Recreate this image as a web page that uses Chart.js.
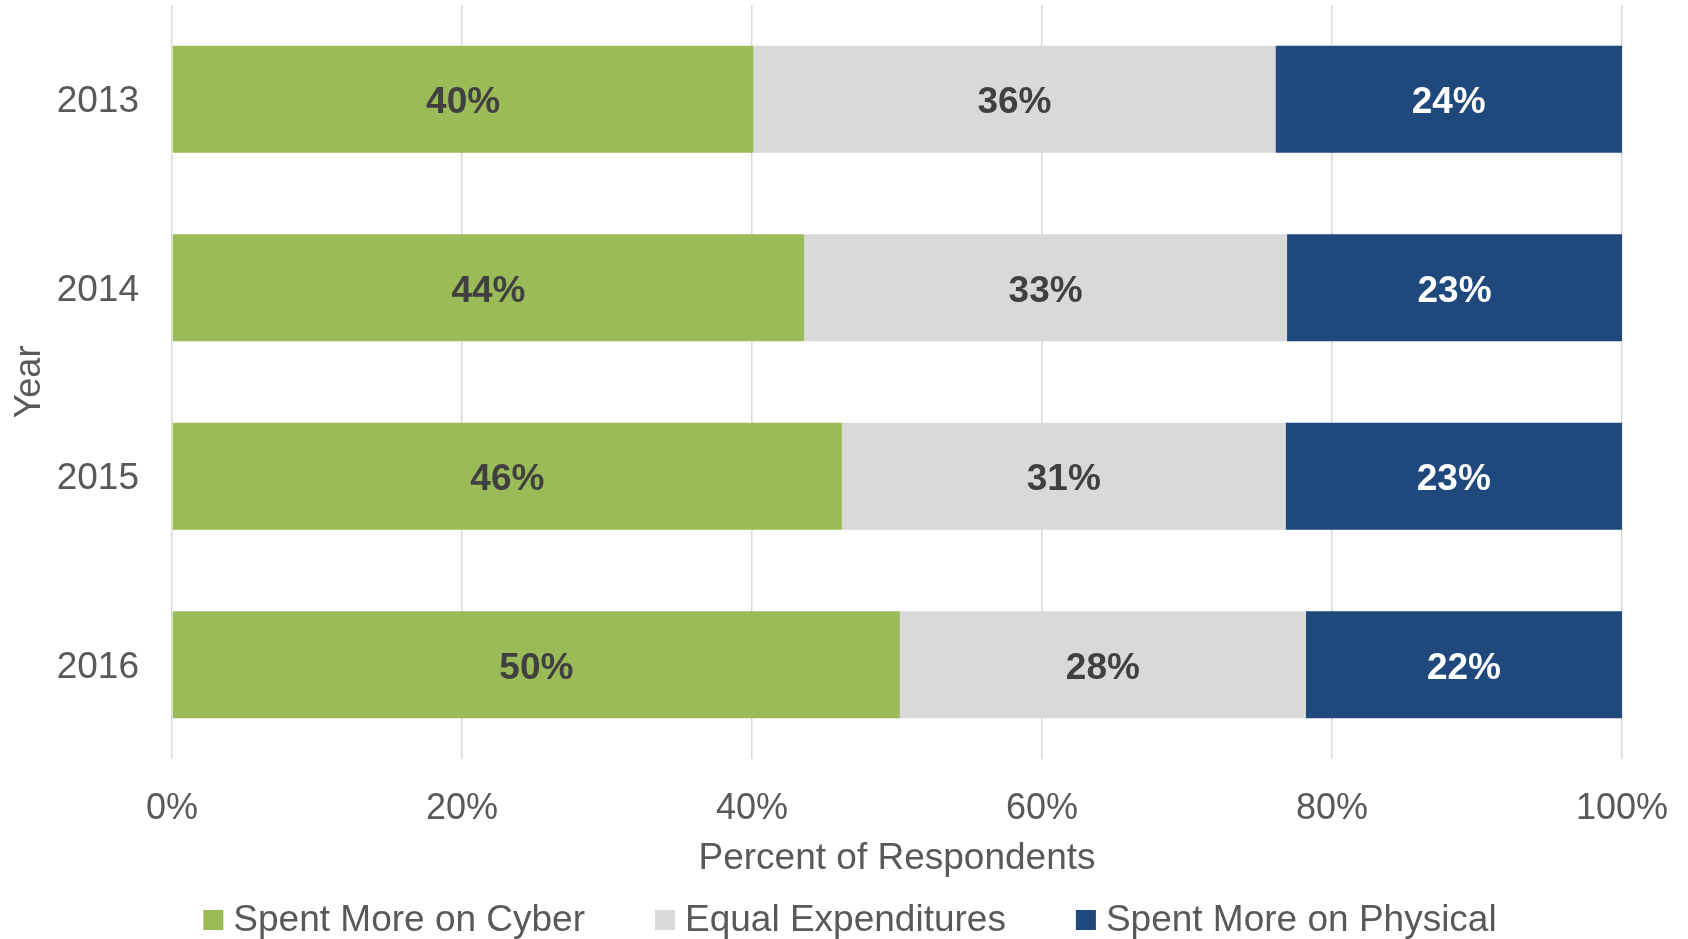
<!DOCTYPE html>
<html>
<head>
<meta charset="utf-8">
<script src="https://cdn.jsdelivr.net/npm/chart.js@4/dist/chart.umd.min.js"></script>
<style>
html,body{margin:0;padding:0;background:#fff;}
#wrap{width:1688px;height:939px;position:relative;}
</style>
</head>
<body>
<div id="wrap"><canvas id="c"></canvas></div>
<script>
const years = ["2013", "2014", "2015", "2016"];
const seriesNames = ["Spent More on Cyber", "Equal Expenditures", "Spent More on Physical"];
const cyber = [40.1, 43.6, 46.2, 50.2];
const equal = [36.0, 33.3, 30.6, 28.0];
const physical = [23.9, 23.1, 23.2, 21.8];
const xTicks = [0, 20, 40, 60, 80, 100];

const FONT = "'Liberation Sans', Arial, sans-serif";
const GREY = '#595959';

const labelPlugin = {
  id: 'segLabels',
  afterDatasetsDraw(chart) {
    const ctx = chart.ctx;
    ctx.save();
    ctx.font = 'bold 37px ' + FONT;
    ctx.textAlign = 'center';
    ctx.textBaseline = 'middle';
    chart.data.datasets.forEach((ds, di) => {
      const meta = chart.getDatasetMeta(di);
      meta.data.forEach((el, i) => {
        const cx = (el.x + el.base) / 2;
        ctx.fillStyle = ds.labelColor;
        ctx.fillText(Math.round(ds.data[i]) + '%', cx, el.y + 4);
      });
    });
    ctx.restore();
  }
};

const legendPlugin = {
  id: 'customLegend',
  afterDraw(chart) {
    const ctx = chart.ctx;
    ctx.save();
    ctx.font = '37px ' + FONT;
    ctx.textBaseline = 'middle';
    ctx.textAlign = 'left';
    const box = 20, gap = 10, between = 70;
    const ds = chart.data.datasets;
    const widths = ds.map(d => box + gap + ctx.measureText(d.label).width);
    const total = widths.reduce((a, b) => a + b, 0) + between * (ds.length - 1);
    let x = 850 - total / 2;
    const cy = 921;
    ds.forEach((d, i) => {
      ctx.fillStyle = d.backgroundColor;
      ctx.fillRect(x, cy - box / 2 - 1, box, box);
      ctx.fillStyle = GREY;
      ctx.fillText(d.label, x + box + gap, cy);
      x += widths[i] + between;
    });
    ctx.restore();
  }
};

new Chart(document.getElementById('c'), {
  type: 'bar',
  data: {
    labels: years,
    datasets: [
      {label: seriesNames[0], data: cyber, backgroundColor: '#9BBB59', labelColor: '#404040'},
      {label: seriesNames[1], data: equal, backgroundColor: '#D9D9D9', labelColor: '#404040'},
      {label: seriesNames[2], data: physical, backgroundColor: '#1F497D', labelColor: '#FFFFFF'}
    ]
  },
  options: {
    indexAxis: 'y',
    responsive: true,
    maintainAspectRatio: false,
    animation: false,
    devicePixelRatio: 1,
    barPercentage: 0.567,
    categoryPercentage: 1.0,
    layout: {padding: {top: 5, right: 66, left: 0, bottom: 57}},
    plugins: {
      tooltip: {enabled: false},
      legend: {display: false}
    },
    scales: {
      x: {
        stacked: true,
        min: 0,
        max: 100,
        afterBuildTicks(scale) { scale.ticks = xTicks.map(v => ({value: v})); },
        afterFit(scale) { scale.height = 123; scale.paddingLeft = 0; scale.paddingRight = 0; },
        ticks: {
          callback: v => v + '%',
          font: {family: FONT, size: 36},
          color: GREY,
          padding: 28,
          maxRotation: 0
        },
        grid: {color: '#D9D9D9', lineWidth: 1.5, drawTicks: false},
        border: {display: false},
        title: {display: true, text: 'Percent of Respondents', font: {family: FONT, size: 37}, color: GREY, padding: {top: 4, bottom: 1}}
      },
      y: {
        stacked: true,
        afterFit(scale) { scale.width = 172; scale.paddingTop = 0; scale.paddingBottom = 0; },
        ticks: {font: {family: FONT, size: 37}, color: GREY, padding: 33, labelOffset: 3},
        grid: {display: false, drawTicks: false},
        border: {display: false},
        title: {display: true, text: 'Year', font: {family: FONT, size: 36}, color: GREY, padding: {top: 8, bottom: 4}}
      }
    }
  },
  plugins: [labelPlugin, legendPlugin]
});
</script>
</body>
</html>
